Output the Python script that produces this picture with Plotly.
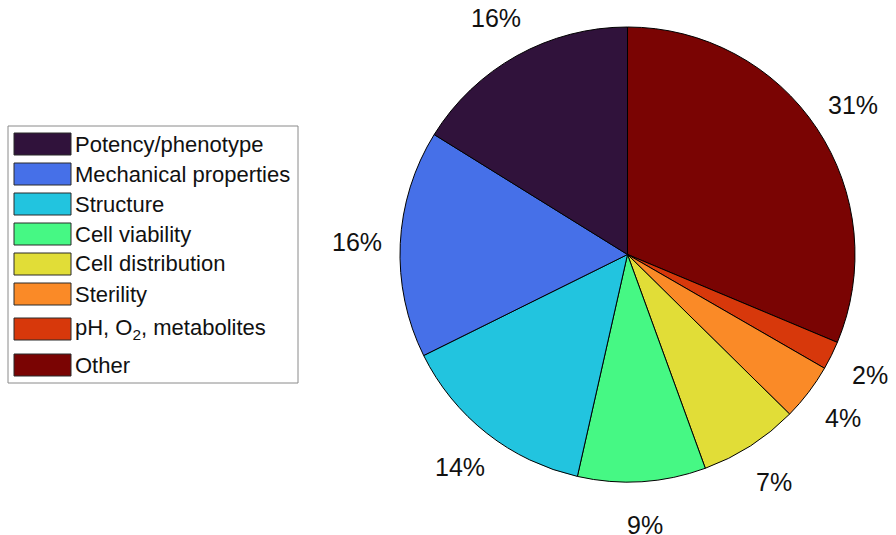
import math
import plotly.graph_objects as go

# ---- data ----
categories = [
    "Potency/phenotype",
    "Mechanical properties",
    "Structure",
    "Cell viability",
    "Cell distribution",
    "Sterility",
    "pH, O<sub>2</sub>, metabolites",
    "Other",
]
shares = [16, 16, 14, 9, 7, 4, 2, 31]  # percent of studies
colors = ["#30123B", "#4670E8", "#22C4DF", "#46F884",
          "#E1DD37", "#FA8A27", "#D7380B", "#7A0403"]

# ---- layout (pixels) ----
W, H = 896, 535
CX, CY, R = 627.5, 254.5, 227.5      # pie centre and radius
LABEL_R = 1.19 * R                    # radius of the percentage labels
FONT = "Arial, Liberation Sans, Helvetica, sans-serif"
TEXT = "#111111"

# legend box and rows
LEG_BOX = (8, 126, 298, 383)
SW_X0, SW_X1, SW_H = 14, 71, 22
TXT_X = 73
ROW_Y = [144, 174, 204, 234, 264, 294, 329, 365]


def px(x):
    return x / W


def py(y):
    return 1 - y / H


# slices run counterclockwise from 12 o'clock in legend order,
# i.e. clockwise in reversed order
fig = go.Figure()
fig.add_trace(go.Pie(
    labels=categories[::-1],
    values=shares[::-1],
    sort=False,
    direction="clockwise",
    rotation=0,
    marker=dict(colors=colors[::-1], line=dict(color="#000000", width=1)),
    textinfo="none",
    hoverinfo="label+value",
    showlegend=False,
    domain=dict(x=[px(CX - R), px(CX + R)], y=[py(CY + R), py(CY - R)]),
))

annotations = []
shapes = []

# percentage labels placed outside each slice at its mid angle (CCW from top)
total = sum(shares)
cum = 0.0
for v in shares:
    mid = (cum + v / 2) / total * 2 * math.pi
    cum += v
    x = CX - LABEL_R * math.sin(mid)
    y = CY - LABEL_R * math.cos(mid)
    annotations.append(dict(
        x=px(x), y=py(y), xref="paper", yref="paper",
        text=f"{v}%", showarrow=False, xanchor="center", yanchor="middle",
        font=dict(family=FONT, size=25, color=TEXT),
    ))

# legend
x0, y0, x1, y1 = LEG_BOX
shapes.append(dict(type="rect", xref="paper", yref="paper",
                   x0=px(x0), x1=px(x1), y0=py(y1), y1=py(y0),
                   line=dict(color="#8a8a8a", width=1), fillcolor="white",
                   layer="below"))
for name, col, ry in zip(categories, colors, ROW_Y):
    shapes.append(dict(type="rect", xref="paper", yref="paper",
                       x0=px(SW_X0), x1=px(SW_X1),
                       y0=py(ry + SW_H / 2), y1=py(ry - SW_H / 2),
                       line=dict(color="#2a2a2a", width=1), fillcolor=col))
    annotations.append(dict(
        x=px(TXT_X), y=py(ry), xref="paper", yref="paper",
        text=name, showarrow=False, xanchor="left", yanchor="middle",
        font=dict(family=FONT, size=22, color=TEXT),
    ))

fig.update_layout(
    width=W, height=H,
    margin=dict(l=0, r=0, t=0, b=0),
    paper_bgcolor="white", plot_bgcolor="white",
    annotations=annotations, shapes=shapes,
    showlegend=False,
)

fig.write_html("out.html")
